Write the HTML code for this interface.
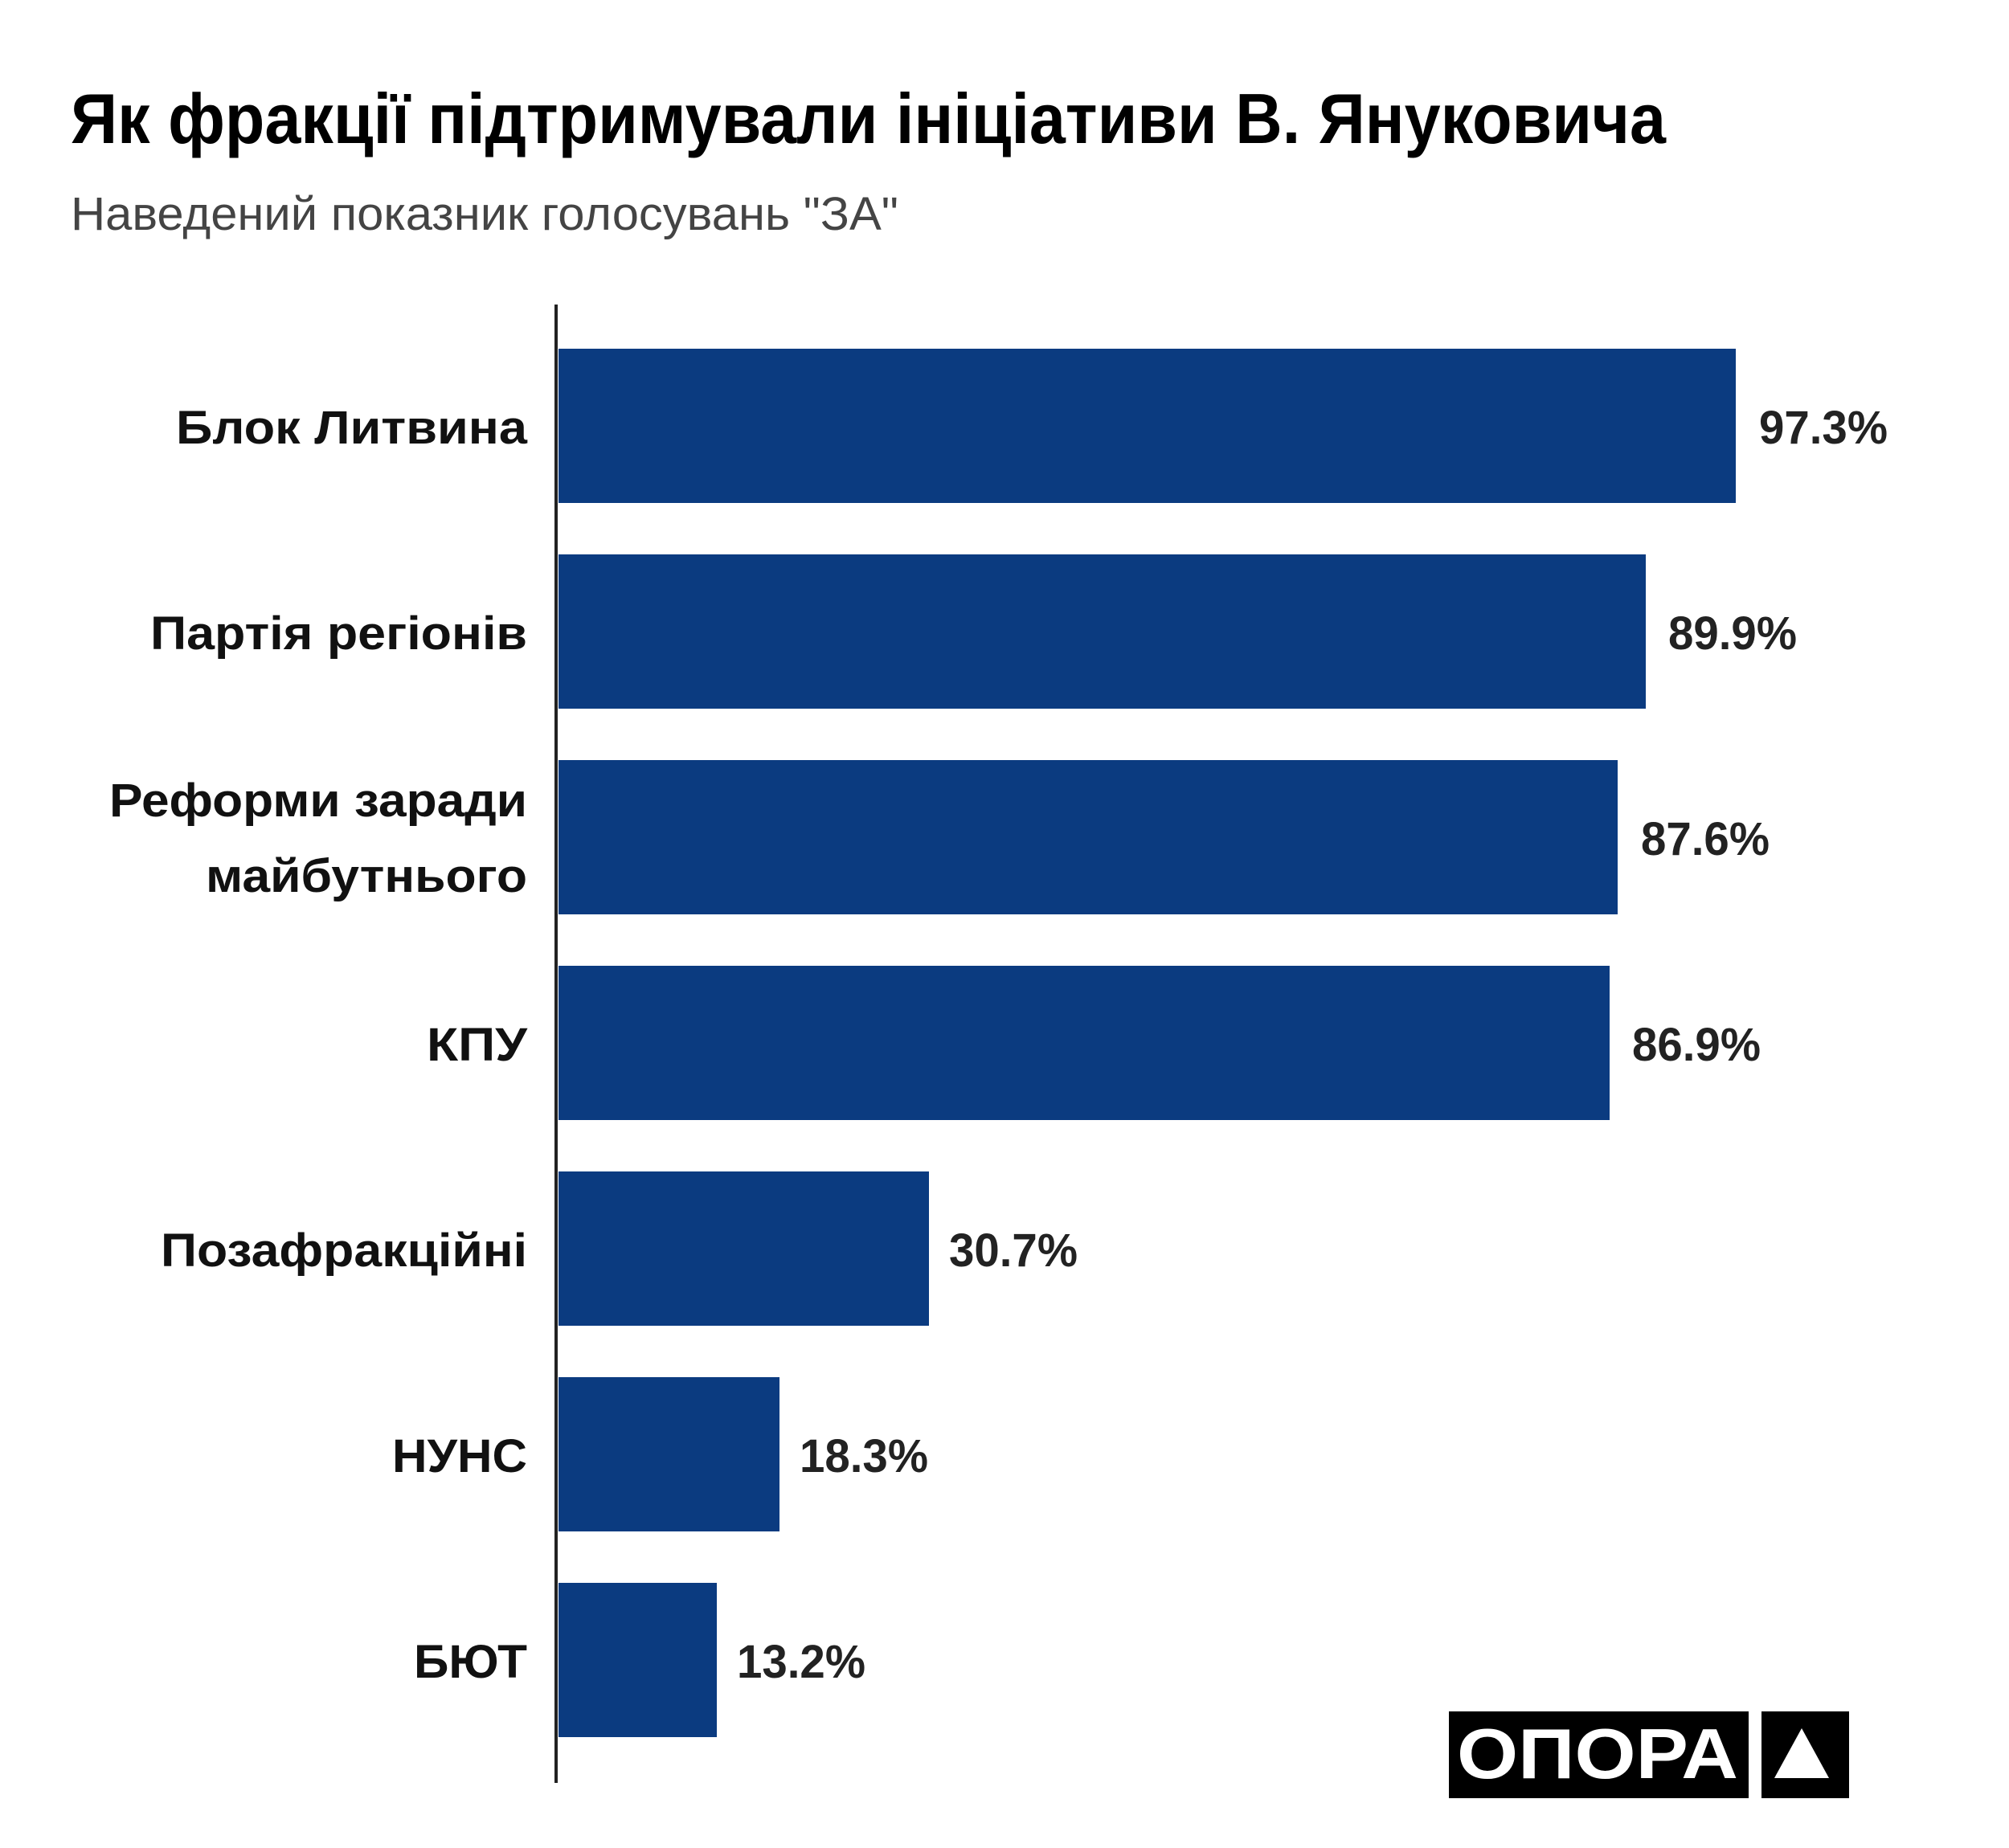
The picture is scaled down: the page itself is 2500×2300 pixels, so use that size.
<!DOCTYPE html>
<html><head><meta charset="utf-8"><style>
html,body{margin:0;padding:0;background:#fff;}
svg{display:block}
text{font-family:"Liberation Sans","DejaVu Sans",sans-serif}
</style></head><body>
<svg width="2500" height="2300" viewBox="0 0 2500 2300" xmlns="http://www.w3.org/2000/svg">
<rect width="2500" height="2300" fill="#fff"/>
<text x="88" y="178" font-size="88" font-weight="bold" fill="#000" textLength="1985" lengthAdjust="spacingAndGlyphs">Як фракції підтримували ініціативи В. Януковича</text>
<text x="88" y="286" font-size="58" fill="#444" textLength="1030" lengthAdjust="spacingAndGlyphs">Наведений показник голосувань "ЗА"</text>
<g fill="#0b3b80">
<rect x="695" y="434" width="1465" height="192"/>
<rect x="695" y="690" width="1353" height="192"/>
<rect x="695" y="946" width="1318" height="192"/>
<rect x="695" y="1202" width="1308" height="192"/>
<rect x="695" y="1458" width="461" height="192"/>
<rect x="695" y="1714" width="275" height="192"/>
<rect x="695" y="1970" width="197" height="192"/>
</g>
<rect x="690" y="379" width="4" height="1840" fill="#222"/>
<g font-size="58" font-weight="bold" fill="#111" text-anchor="end">
<text x="656" y="552" textLength="437" lengthAdjust="spacingAndGlyphs">Блок Литвина</text>
<text x="656" y="808" textLength="469" lengthAdjust="spacingAndGlyphs">Партія регіонів</text>
<text x="656" y="1016" textLength="520" lengthAdjust="spacingAndGlyphs">Реформи заради</text>
<text x="656" y="1110" textLength="400" lengthAdjust="spacingAndGlyphs">майбутнього</text>
<text x="656" y="1320" textLength="125" lengthAdjust="spacingAndGlyphs">КПУ</text>
<text x="656" y="1576" textLength="456" lengthAdjust="spacingAndGlyphs">Позафракційні</text>
<text x="656" y="1832" textLength="168" lengthAdjust="spacingAndGlyphs">НУНС</text>
<text x="656" y="2088" textLength="141" lengthAdjust="spacingAndGlyphs">БЮТ</text>
</g>
<g font-size="58" font-weight="bold" fill="#222">
<text x="2189" y="552" textLength="160" lengthAdjust="spacingAndGlyphs">97.3%</text>
<text x="2076" y="808" textLength="160" lengthAdjust="spacingAndGlyphs">89.9%</text>
<text x="2042" y="1064" textLength="160" lengthAdjust="spacingAndGlyphs">87.6%</text>
<text x="2031" y="1320" textLength="160" lengthAdjust="spacingAndGlyphs">86.9%</text>
<text x="1181" y="1576" textLength="160" lengthAdjust="spacingAndGlyphs">30.7%</text>
<text x="995" y="1832" textLength="160" lengthAdjust="spacingAndGlyphs">18.3%</text>
<text x="917" y="2088" textLength="160" lengthAdjust="spacingAndGlyphs">13.2%</text>
</g>
<rect x="1803" y="2130" width="373" height="108" fill="#000"/>
<rect x="2192" y="2130" width="109" height="108" fill="#000"/>
<text x="1813" y="2213" font-size="88" font-weight="bold" fill="#fff" textLength="350" lengthAdjust="spacingAndGlyphs">ОПОРА</text>
<polygon points="2242,2151 2276,2213 2208,2213" fill="#fff"/>
</svg>
</body></html>
